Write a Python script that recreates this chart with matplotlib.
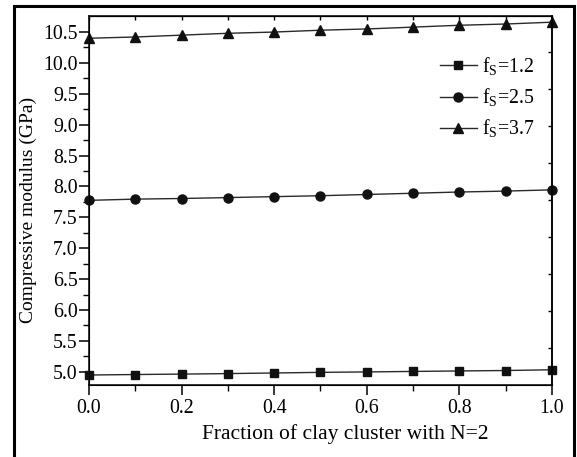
# compressive modulus vs fraction of clay cluster

import numpy as np
import matplotlib
matplotlib.use("Agg")
import matplotlib.pyplot as plt
from matplotlib.patches import Rectangle

plt.rcParams['font.family'] = ['Liberation Serif', 'DejaVu Serif']
plt.rcParams['mathtext.fontset'] = 'custom'
plt.rcParams['mathtext.rm'] = 'Liberation Serif'
plt.rcParams['font.size'] = 14.3

fraction = [0.0, 0.1, 0.2, 0.3, 0.4, 0.5, 0.6, 0.7, 0.8, 0.9, 1.0]
mod_fs12 = [4.947, 4.955, 4.962, 4.970, 4.980, 4.990, 4.997, 5.005, 5.013, 5.020, 5.032]
mod_fs25 = [7.775, 7.795, 7.805, 7.820, 7.835, 7.850, 7.870, 7.890, 7.910, 7.925, 7.945]
mod_fs37 = [10.40, 10.42, 10.45, 10.48, 10.50, 10.53, 10.55, 10.58, 10.61, 10.63, 10.66]
series_labels = [r'f$_\mathrm{S}$=1.2', r'f$_\mathrm{S}$=2.5', r'f$_\mathrm{S}$=3.7']
x_ticks = [0.0, 0.2, 0.4, 0.6, 0.8, 1.0]
y_ticks = [5.0, 5.5, 6.0, 6.5, 7.0, 7.5, 8.0, 8.5, 9.0, 9.5, 10.0, 10.5]

fig = plt.figure(figsize=(5.77, 4.57), dpi=100)
ax = fig.add_axes([0.1542, 0.1575, 0.8025, 0.8075])

ymin, ymax = 4.785, 10.76

for vals, mk, lab in zip([mod_fs12, mod_fs25, mod_fs37], ['s', 'o', '^'], series_labels):
    ax.plot(fraction, vals, color='#2a2a2a', lw=1.0, marker=mk, ms=6.5 if mk != 's' else 6,
            mfc='#111111', mec='#111111', label=lab, clip_on=False, zorder=3)

ax.set_xlim(0, 1)
ax.set_ylim(ymin, ymax)
ax.set_xticks(x_ticks)
ax.set_xticklabels(['%.1f' % v for v in x_ticks])
ax.set_xticks(np.arange(0.1, 1.0, 0.2), minor=True)
ax.set_yticks(y_ticks)
ax.set_yticklabels(['%.1f' % v for v in y_ticks])
ax.set_yticks(np.arange(5.25, 10.6, 0.5), minor=True)

ax.tick_params(which='major', direction='out', length=7, width=1.1)
ax.tick_params(axis='y', which='major', pad=1)
ax.tick_params(axis='x', which='major', pad=3)
ax.tick_params(which='minor', direction='out', length=4, width=1.0)
for s in ax.spines.values():
    s.set_linewidth(1.1)

# inward ticks on top and right
top = ax.secondary_xaxis('top')
top.set_xticks(np.arange(0, 1.01, 0.1))
top.tick_params(direction='in', length=3, width=1.0, labeltop=False)
right = ax.twinx()
right.set_ylim(ymin, ymax)
right.set_yticks(np.arange(ymin + 0.6, ymax, 0.6))
right.tick_params(direction='in', length=3, width=1.0, labelright=False)
right.spines['right'].set_linewidth(1.1)

ax.set_xlabel('Fraction of clay cluster with N=2', fontsize=15.5)
ax.xaxis.set_label_coords(0.553, -0.106)
ax.set_ylabel('Compressive modulus (GPa)', fontsize=14)
ax.yaxis.set_label_coords(-0.112, 0.475)

ax.legend(loc='upper left', bbox_to_anchor=(0.74, 0.915), frameon=False,
          handlelength=1.9, handletextpad=0.25, labelspacing=0.45, borderaxespad=0)

# outer frame
fig.add_artist(Rectangle((13.5 / 577, -0.05), (574 - 13.5) / 577, 1.05 - 6 / 457,
                         transform=fig.transFigure, fill=False, lw=2.2, ec='black'))

fig.savefig('out.png', dpi=100)
